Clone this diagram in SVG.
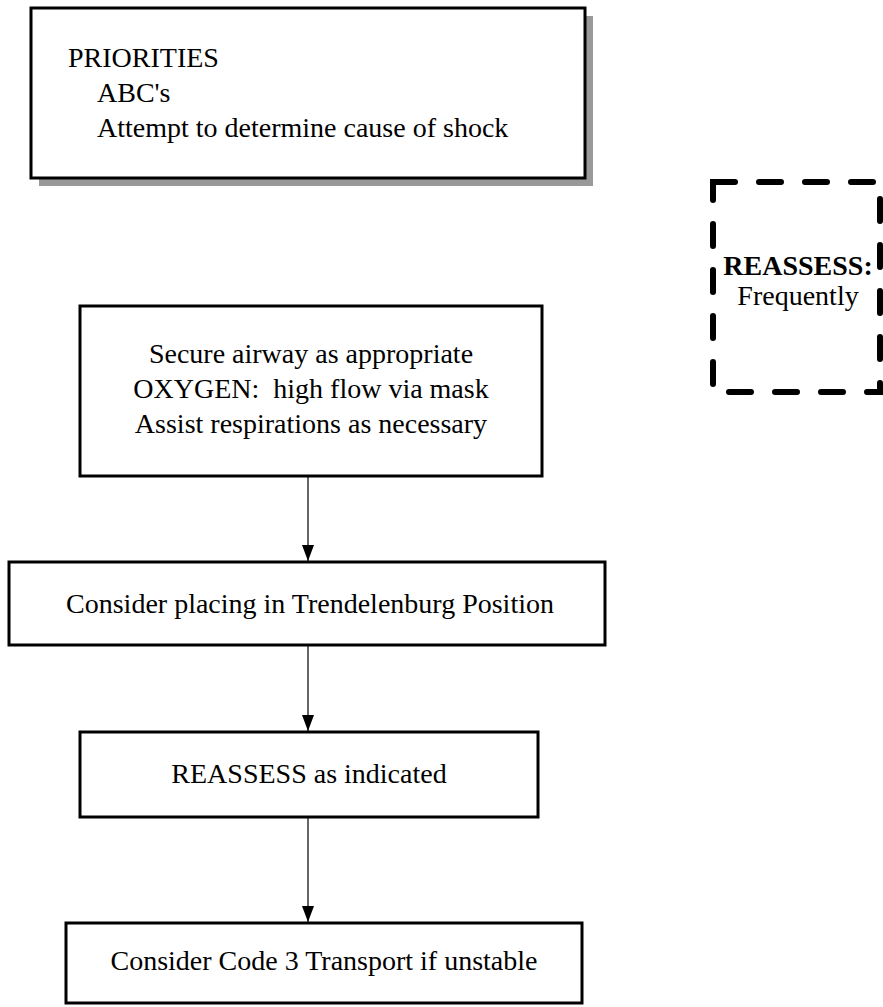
<svg xmlns="http://www.w3.org/2000/svg" width="883" height="1007" viewBox="0 0 883 1007">
<style>
  .box { fill: #ffffff; stroke: #000000; stroke-width: 3; }
  .shadow { fill: #999999; stroke: none; }
  .dash { fill: none; stroke: #000000; stroke-width: 6; stroke-dasharray: 22 24; stroke-linecap: round; }
  text { font-family: "Liberation Serif", "Times New Roman", serif; font-size: 28px; fill: #000000; }
  .c { text-anchor: middle; }
  .b { font-weight: bold; }
  .conn { stroke: #000000; stroke-width: 1.2; fill: none; }
</style>
<defs>
  <marker id="arr" viewBox="0 0 16 12" refX="16" refY="6" markerWidth="16" markerHeight="12" markerUnits="userSpaceOnUse" orient="auto">
    <path d="M0,0 L16,6 L0,12 Z" fill="#000000"/>
  </marker>
</defs>
<rect width="883" height="1007" fill="#ffffff"/>
<g id="priorities">
  <rect class="shadow" x="39" y="16" width="554" height="170"/>
  <rect class="box" x="31" y="8" width="554" height="170"/>
  <text x="68" y="67">PRIORITIES</text>
  <text x="97" y="102">ABC's</text>
  <text x="97" y="137">Attempt to determine cause of shock</text>
</g>
<g id="reassess-frequently">
  <rect class="dash" x="713" y="182" width="167" height="210"/>
  <text class="c b" x="798" y="275">REASSESS:</text>
  <text class="c" x="798" y="305">Frequently</text>
</g>
<g id="airway">
  <rect class="box" x="80" y="306" width="462" height="170"/>
  <text class="c" x="311" y="363">Secure airway as appropriate</text>
  <text class="c" x="311" y="398" xml:space="preserve">OXYGEN:  high flow via mask</text>
  <text class="c" x="311" y="433">Assist respirations as necessary</text>
</g>
<g id="trendelenburg">
  <rect class="box" x="9" y="562" width="596" height="83"/>
  <text class="c" x="310" y="613">Consider placing in Trendelenburg Position</text>
</g>
<g id="reassess-indicated">
  <rect class="box" x="80" y="732" width="458" height="85"/>
  <text class="c" x="309" y="783">REASSESS as indicated</text>
</g>
<g id="transport">
  <rect class="box" x="66" y="923" width="516" height="80"/>
  <text class="c" x="324" y="970">Consider Code 3 Transport if unstable</text>
</g>
<g id="connectors">
  <line class="conn" x1="308" y1="477" x2="308" y2="561" marker-end="url(#arr)"/>
  <line class="conn" x1="308" y1="646" x2="308" y2="731" marker-end="url(#arr)"/>
  <line class="conn" x1="308" y1="818" x2="308" y2="922" marker-end="url(#arr)"/>
</g>
</svg>
